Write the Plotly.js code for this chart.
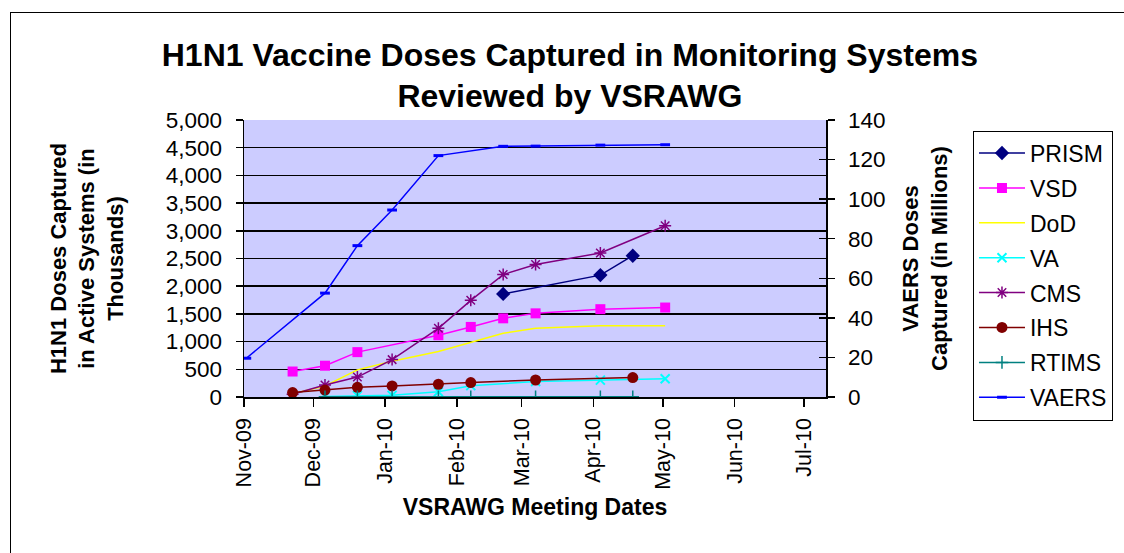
<!DOCTYPE html>
<html>
<head>
<meta charset="utf-8">
<script src="https://cdn.plot.ly/plotly-3.0.1.min.js"></script>
<style>
  html, body { margin: 0; padding: 0; background: #fff; }
  #wrap { position: relative; width: 1124px; height: 553px; overflow: hidden; }
  #chart { position: absolute; left: 0; top: 0; width: 1124px; height: 553px; }
  #frame { position: absolute; left: 10px; top: 12px; width: 1130px; height: 560px;
           border-left: 1.5px solid #000; border-top: 1.5px solid #000; pointer-events: none; }
</style>
</head>
<body>
<div id="wrap">
  <div id="chart"></div>
  <div id="frame"></div>
</div>
<script>
// Meeting dates (x values shared by all series; null = no report that date)
const meetingDates = ['2009-11-02','2009-11-22','2009-12-06','2009-12-20','2010-01-04','2010-01-24',
                      '2010-02-07','2010-02-21','2010-03-07','2010-04-04','2010-04-18','2010-05-02'];

// Active systems, doses in thousands (left axis)
const prism = [null, null, null, null, null, null, null, 1860, null, 2200, 2550, null];
const vsd   = [null, 460, 565, 810, null, 1115, 1265, 1420, 1510, 1585, null, 1615];
const dod   = [null, 60, 200, 490, 645, 820, 985, 1150, 1240, 1287, null, 1287];
const va    = [null, null, 10, 25, 30, 95, 205, null, 280, 305, null, 330];
const cms   = [null, 50, 215, 360, 675, 1240, 1745, 2210, 2390, 2600, null, 3090];
const ihs   = [null, 80, 125, 175, 200, 230, 260, null, 307, null, 350, null];
const rtims = [null, null, 5, 5, 5, 5, 5, null, 5, 5, 5, null];

// VAERS, doses in millions (right axis)
const vaers = [19.6, null, 52.5, 76.5, 94.5, 122, null, 126.7, 126.8, 127.3, null, 127.5];

const seriesNames = ['PRISM','VSD','DoD','VA','CMS','IHS','RTIMS','VAERS'];

function tr(name, y, color, marker, axis) {
  const t = {
    type: 'scatter', x: meetingDates, y: y, name: name, legendgroup: name,
    mode: marker ? 'lines+markers' : 'lines', connectgaps: true,
    line: { color: color, width: 1.5 },
    yaxis: axis || 'y', hoverinfo: 'x+y+name'
  };
  if (marker) t.marker = marker;
  return t;
}

const data = [
  tr(seriesNames[0], prism, '#000080', { symbol: 'diamond', size: 11, color: '#000080' }),
  tr(seriesNames[1], vsd, '#FF00FF', { symbol: 'square', size: 10, color: '#FF00FF' }),
  tr(seriesNames[2], dod, '#FFFF00', null),
  tr(seriesNames[3], va, '#00FFFF', { symbol: 'x-thin-open', size: 9, color: '#00FFFF', line: { color: '#00FFFF', width: 2 } }),
  tr(seriesNames[4], cms, '#800080', { symbol: 'asterisk-open', size: 10, color: '#800080', line: { color: '#800080', width: 1.5 } }),
  tr(seriesNames[5], ihs, '#800000', { symbol: 'circle', size: 11, color: '#800000' }),
  tr(seriesNames[6], rtims, '#008080', { symbol: 'cross-thin-open', size: 9, color: '#008080', line: { color: '#008080', width: 1.5 } }),
  tr(seriesNames[7], vaers, '#0000FF', { symbol: 'line-ew-open', size: 7, color: '#0000FF', line: { color: '#0000FF', width: 3 } }, 'y2'),
  // helper trace so the crossing half of the right-axis tick marks is drawn
  { type: 'scatter', x: [meetingDates[0]], y: [null], yaxis: 'y3', showlegend: false, hoverinfo: 'skip', mode: 'lines' }
];

const layout = {
  width: 1124, height: 553,
  margin: { l: 244, r: 297, t: 120, b: 156, pad: 0 },
  paper_bgcolor: '#FFFFFF', plot_bgcolor: '#CCCCFF',
  font: { family: 'Liberation Sans, Arial, sans-serif', color: '#000', size: 21 },
  showlegend: true,
  title: {
    text: '<b>H1N1 Vaccine Doses Captured in Monitoring Systems<br>Reviewed by VSRAWG</b>',
    font: { size: 32, color: '#000' },
    x: 0.507, xref: 'container', xanchor: 'center',
    y: 0.881, yref: 'container', yanchor: 'top'
  },
  xaxis: {
    type: 'date', range: ['2009-11-01', '2010-07-10 12:00'],
    tick0: '2009-11-01', dtick: 'M1', tickformat: '%b-%y', tickangle: -90,
    ticks: 'outside', ticklen: 8, tickcolor: '#000', tickwidth: 1.5,
    tickfont: { size: 21.5 }, ticklabelstandoff: 3,
    showline: true, linecolor: '#000', linewidth: 1.5,
    showgrid: false, zeroline: false, fixedrange: true,
    title: { text: '<b>VSRAWG Meeting Dates</b>', font: { size: 23 }, standoff: 10 }
  },
  yaxis: {
    range: [0, 5000], dtick: 500, tickformat: ',d',
    ticks: 'outside', ticklen: 7, tickcolor: '#000', tickwidth: 1.5,
    tickfont: { size: 22.5 }, ticklabelstandoff: 9,
    showline: true, linecolor: '#000', linewidth: 1.5,
    showgrid: true, gridcolor: '#000', gridwidth: 1.5, zeroline: false,
    title: { text: '<b>H1N1 Doses Captured<br>in Active Systems (in<br>Thousands)</b>', font: { size: 22 }, standoff: 36 }
  },
  yaxis2: {
    overlaying: 'y', side: 'right', range: [0, 140], dtick: 20,
    ticks: 'outside', ticklen: 7, tickcolor: '#000', tickwidth: 1.5,
    tickfont: { size: 22.5 }, ticklabelstandoff: 9,
    showline: true, linecolor: '#000', linewidth: 1.5,
    showgrid: false, zeroline: false,
    title: { text: '<b>VAERS Doses<br>Captured (in Millions)</b>', font: { size: 22 }, standoff: 18 }
  },
  yaxis3: {
    overlaying: 'y', side: 'right', range: [0, 140], dtick: 20,
    ticks: 'inside', ticklen: 7, tickcolor: '#000', tickwidth: 1.5,
    showticklabels: false, showline: false, showgrid: false, zeroline: false
  },
  legend: {
    x: 1.2504, y: 0.962, xanchor: 'left', yanchor: 'top', maxheight: 420,
    bgcolor: '#FFFFFF', bordercolor: '#000', borderwidth: 1,
    font: { size: 23 }, traceorder: 'grouped', tracegroupgap: 2, itemwidth: 46
  }
};

Plotly.newPlot('chart', data, layout, { displayModeBar: false, staticPlot: true });
</script>
</body>
</html>
